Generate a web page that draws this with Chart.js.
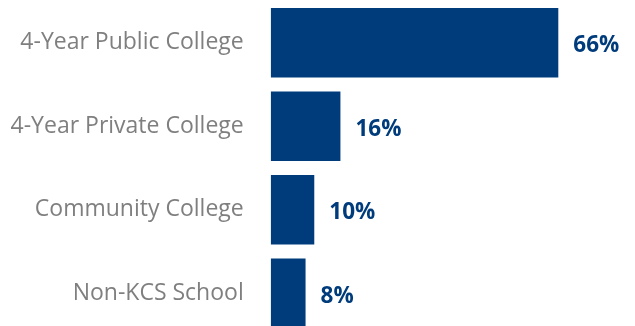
<!DOCTYPE html>
<html>
<head>
<meta charset="utf-8">
<script src="https://cdn.jsdelivr.net/npm/chart.js@4/dist/chart.umd.min.js"></script>
<style>
  html, body { margin: 0; padding: 0; background: #ffffff; overflow: hidden; }
  #wrap { position: relative; width: 635px; height: 336px; }
</style>
</head>
<body>
<div id="wrap"><canvas id="chart"></canvas></div>
<script>
// College destinations (share of graduates, %)
const categories = ['4-Year Public College', '4-Year Private College', 'Community College', 'Non-KCS School'];
const shares = [66, 16, 10, 8];
const valueLabels = ['66%', '16%', '10%', '8%'];

const NAVY = '#003C7B';
const GREY = '#7F7F7F';
const FONT = "'Open Sans', 'Noto Sans', sans-serif";

// Writes each bar's value just past its end
const barValueLabels = {
  id: 'barValueLabels',
  afterDatasetsDraw(chart) {
    const ctx = chart.ctx;
    const meta = chart.getDatasetMeta(0);
    ctx.save();
    ctx.fillStyle = NAVY;
    ctx.font = "bold 22.5px " + FONT;
    ctx.textAlign = 'left';
    ctx.textBaseline = 'middle';
    meta.data.forEach((bar, i) => {
      ctx.fillText(valueLabels[i], bar.x + 15, bar.y + 3);
    });
    ctx.restore();
  }
};

new Chart(document.getElementById('chart'), {
  type: 'bar',
  data: {
    labels: categories,
    datasets: [{
      data: shares,
      backgroundColor: NAVY,
      borderWidth: 0,
      barPercentage: 0.83,
      categoryPercentage: 1.0
    }]
  },
  options: {
    indexAxis: 'y',
    responsive: true,
    maintainAspectRatio: false,
    animation: false,
    layout: { padding: { top: 1, bottom: 1, left: 0, right: 0 } },
    plugins: {
      legend: { display: false },
      tooltip: { enabled: false }
    },
    scales: {
      x: {
        display: false,
        min: 0,
        max: 83.6
      },
      y: {
        border: { display: false },
        grid: { display: false, drawTicks: false },
        ticks: {
          color: GREY,
          padding: 27,
          font: { family: FONT, size: 23 }
        },
        afterFit(scale) {
          scale.width = 270.7;
          scale.paddingTop = 0;
          scale.paddingBottom = 0;
        }
      }
    }
  },
  plugins: [barValueLabels]
});
</script>
</body>
</html>
